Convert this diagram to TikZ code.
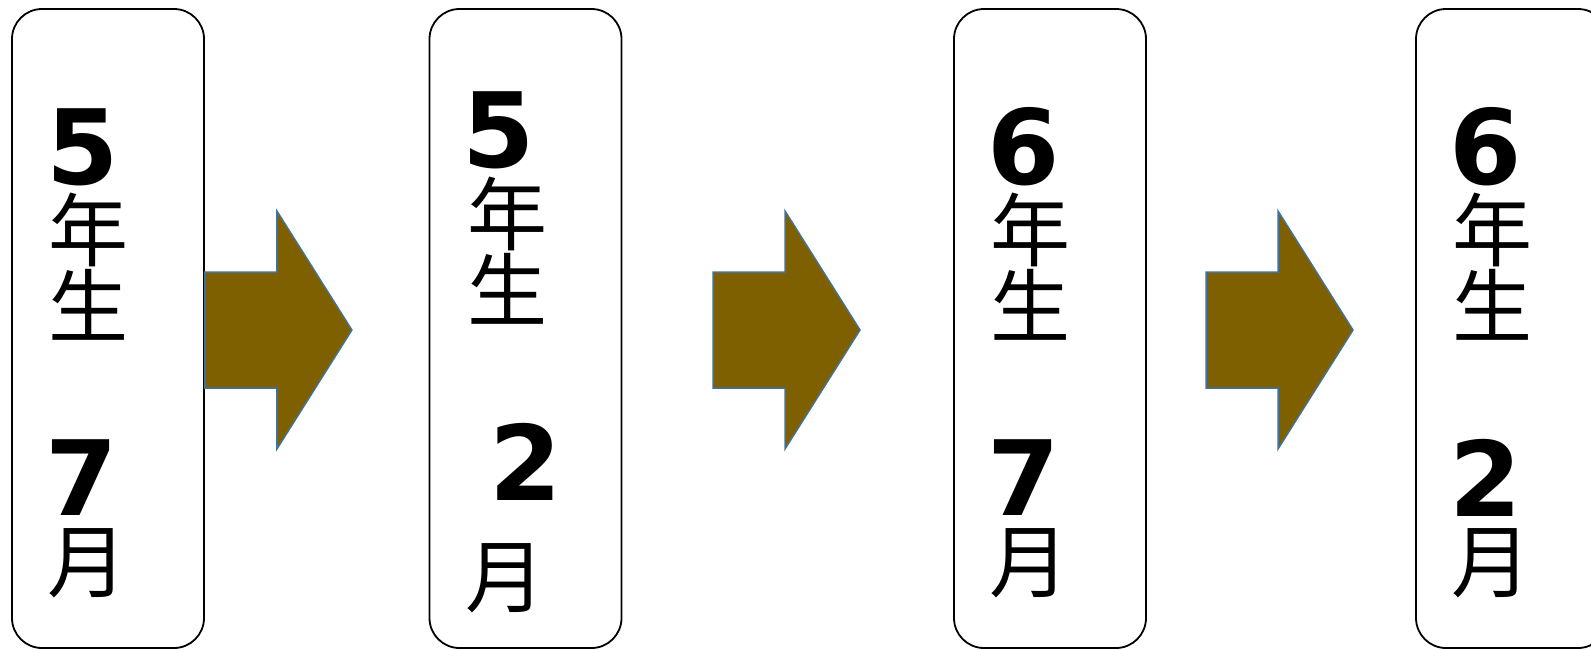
\documentclass[tikz,border=0pt]{standalone}
\usepackage{fontspec}
\usepackage{xcolor}
\usepackage{tikz}
\usetikzlibrary{positioning}
\newfontfamily\numfont{DejaVu Sans}
\newfontfamily\jpfont{Noto Sans CJK JP}
\definecolor{arrowfill}{HTML}{7F6000}
\definecolor{arrowline}{HTML}{41719C}
\tikzset{
    stagebox/.style={
        rectangle,
        draw=black,
        line width=1.8pt,
        rounded corners=30pt,
        minimum width=192pt,
        minimum height=639pt,
        inner sep=0pt,
        fill=white
    },
    stagearrow/.style={
        draw=arrowline,
        line width=1.5pt,
        fill=arrowfill,
        line join=miter
    },
    bignum/.style={
        inner sep=0pt,
        font=\numfont\bfseries\fontsize{104}{104}\selectfont
    },
    kanji/.style={
        inner sep=0pt,
        font=\jpfont\fontsize{80}{80}\selectfont
    }
}

\begin{document}
\begin{tikzpicture}[x=1pt, y=-1pt]

\useasboundingbox (0,0) rectangle (1591,649);

% Stage boxes
\node[stagebox] (g5jul) at (108,328.5) {};
\node[stagebox] (g5feb) at (525.5,328.5) {};
\node[stagebox] (g6jul) at (1050,328.5) {};
\node[stagebox] (g6feb) at (1512,328.5) {};

% Arrows between stages (tail points)
\coordinate (arr1) at (g5jul.east |- 0,330);
\coordinate (arr2) at (713,330);
\coordinate (arr3) at (1206,330);
\foreach \a in {arr1, arr2, arr3}
    \draw[stagearrow] (\a) ++(0,-58) -- ++(72,0) -- ++(0,-61) -- ++(75,119)
        -- ++(-75,119) -- ++(0,-61) -- ++(-72,0) -- cycle;

% Grade 5, July
\node[bignum] (g5jul_num) at (82.5,147) {5};
\node[kanji] (g5jul_nen) at (88,230) {年};
\node[kanji] (g5jul_sei) at (88,305) {生};
\node[bignum] (g5jul_mon) at (82,478) {7};
\node[kanji] (g5jul_gatsu) at (87,563) {月};

% Grade 5, February
\node[bignum] (g5feb_num) at (499,130) {5};
\node[kanji] (g5feb_nen) at (507.5,213.5) {年};
\node[kanji] (g5feb_sei) at (507.5,289) {生};
\node[bignum] (g5feb_mon) at (526,461.5) {2};
\node[kanji] (g5feb_gatsu) at (505,578) {月};

% Grade 6, July
\node[bignum] (g6jul_num) at (1024,147) {6};
\node[kanji] (g6jul_nen) at (1030.5,230) {年};
\node[kanji] (g6jul_sei) at (1030.5,305) {生};
\node[bignum] (g6jul_mon) at (1024,478) {7};
\node[kanji] (g6jul_gatsu) at (1029,563) {月};

% Grade 6, February
\node[bignum] (g6feb_num) at (1486,147) {6};
\node[kanji] (g6feb_nen) at (1492.5,230) {年};
\node[kanji] (g6feb_sei) at (1492.5,305) {生};
\node[bignum] (g6feb_mon) at (1486,478) {2};
\node[kanji] (g6feb_gatsu) at (1491,563) {月};

\end{tikzpicture}
\end{document}
